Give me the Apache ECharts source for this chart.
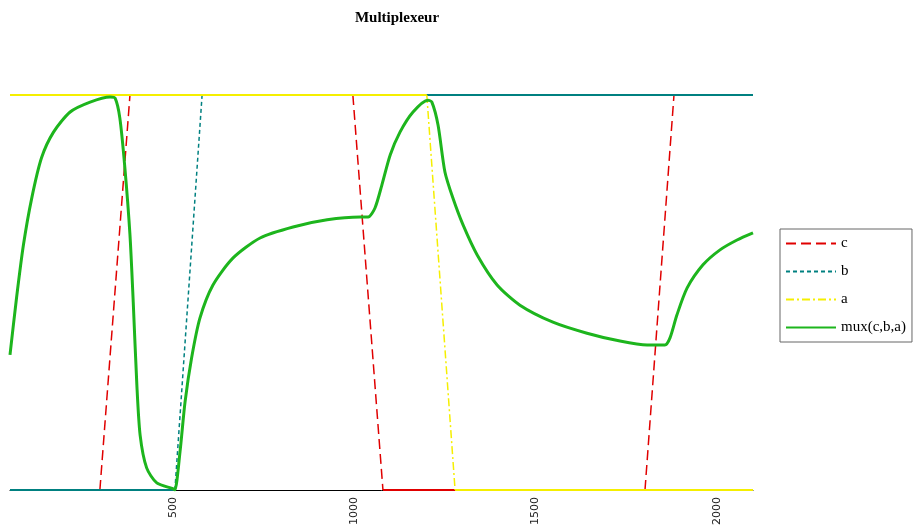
<!DOCTYPE html>
<html>
<head>
<meta charset="utf-8">
<script src="https://cdn.jsdelivr.net/npm/echarts@6/dist/echarts.min.js"></script>
<style>html,body{margin:0;padding:0;background:#fff}#c{width:916px;height:527px}</style>
</head>
<body>
<div id="c"></div>
<script>
// ---- data ----
const titleText = 'Multiplexeur';
const xTickLabels = [500, 1000, 1500, 2000];
const seriesNames = ['c', 'b', 'a', 'mux(c,b,a)'];

const cX = [50, 298, 381, 996, 1079, 1802, 1882, 2100];
const cY = [0, 0, 1, 1, 0, 0, 1, 1];
const bX = [50, 505, 580, 2100];
const bY = [0, 0, 1, 1];
const aX = [50, 1200, 1278, 2100];
const aY = [1, 1, 0, 0];

const muxX = [50, 68, 87, 110, 137, 170, 216, 271, 326, 340, 353, 367, 381, 390, 400, 409, 427, 455, 501,
  505, 519, 533, 551, 574, 610, 665, 740, 831, 925, 1016, 1038, 1057, 1076, 1099, 1126, 1162, 1203,
  1214, 1231, 1250, 1272, 1300, 1339, 1394, 1457, 1548, 1642, 1733, 1808, 1857, 1871, 1890, 1918,
  1962, 2009, 2056, 2100];
const muxY = [0.342, 0.486, 0.620, 0.739, 0.841, 0.906, 0.957, 0.982, 0.995, 0.992, 0.942, 0.815, 0.646,
  0.476, 0.266, 0.139, 0.056, 0.018, 0.003,
  0.0, 0.096, 0.223, 0.334, 0.435, 0.519, 0.587, 0.638, 0.666, 0.684, 0.691, 0.691, 0.714, 0.772,
  0.848, 0.906, 0.957, 0.987,
  0.982, 0.924, 0.805, 0.739, 0.671, 0.595, 0.519, 0.468, 0.425, 0.397, 0.377, 0.367, 0.367, 0.385,
  0.443, 0.511, 0.570, 0.608, 0.633, 0.651];

// ---- helpers ----
function splitSegments(xs, ys) {
  const dashed = [], solid = [];
  for (let i = 0; i < xs.length - 1; i++) {
    const target = ys[i] === ys[i + 1] ? solid : dashed;
    if (target.length) target.push([xs[i], '-']);
    target.push([xs[i], ys[i]], [xs[i + 1], ys[i + 1]]);
  }
  return { dashed, solid };
}
function signalSeries(name, xs, ys, color, dash) {
  const s = splitSegments(xs, ys);
  return [
    { name, type: 'line', data: s.dashed, showSymbol: false, symbol: 'none', connectNulls: false,
      lineStyle: { color, width: 1.5, type: dash }, itemStyle: { color } },
    { name, type: 'line', data: s.solid, showSymbol: false, symbol: 'none', connectNulls: false,
      lineStyle: { color, width: 2, type: 'solid' }, itemStyle: { color } }
  ];
}

const chart = echarts.init(document.getElementById('c'), null, { renderer: 'canvas' });
const option = {
  animation: false,
  backgroundColor: '#fff',
  title: {
    text: titleText, left: 392, top: 6, textAlign: 'center',
    textStyle: { fontFamily: 'Liberation Serif', fontWeight: 'bold', fontSize: 15, color: '#000' }
  },
  legend: {
    data: seriesNames,
    orient: 'vertical',
    left: 780, top: 229,
    padding: [7, 6, 7, 5],
    itemWidth: 50, itemHeight: 14, itemGap: 13,
    borderColor: '#666', borderWidth: 1,
    itemStyle: { opacity: 0 },
    textStyle: { fontFamily: 'Liberation Serif', fontSize: 15, color: '#000' }
  },
  grid: { left: 10, right: 163, top: 95, bottom: 37, containLabel: false, outerBoundsMode: 'none' },
  xAxis: {
    type: 'value', min: 50, max: 2100,
    axisLine: { show: true, lineStyle: { color: '#000', width: 1 } },
    axisTick: { show: false },
    splitLine: { show: false },
    axisLabel: {
      customValues: xTickLabels,
      formatter: v => String(v),
      rotate: 90, margin: 7,
      fontFamily: 'DejaVu Sans', fontSize: 11, color: '#222'
    }
  },
  yAxis: {
    type: 'value', min: 0, max: 1,
    axisLine: { show: false }, axisTick: { show: false },
    axisLabel: { show: false }, splitLine: { show: false }
  },
  series: [
    ...signalSeries('c', cX, cY, '#e00000', [10, 5]),
    ...signalSeries('b', bX, bY, '#008080', [4, 3]),
    ...signalSeries('a', aX, aY, '#f5ef00', [8, 3, 2, 3]),
    { name: 'mux(c,b,a)', type: 'line', data: muxX.map((x, i) => [x, muxY[i]]),
      showSymbol: false, symbol: 'none', smooth: 0.25,
      lineStyle: { color: '#1db51d', width: 3 }, itemStyle: { color: '#1db51d' } }
  ]
};
chart.setOption(option);
</script>
</body>
</html>
